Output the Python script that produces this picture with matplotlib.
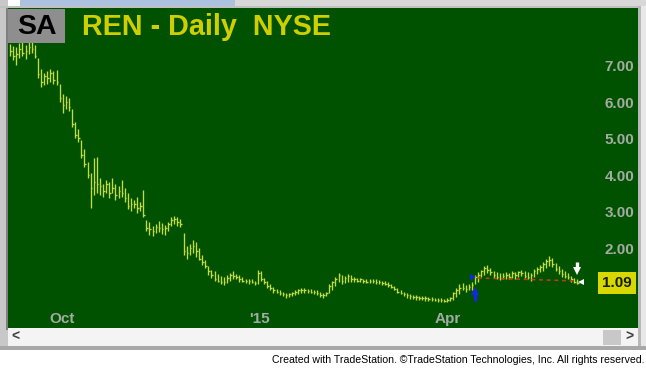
import matplotlib
matplotlib.use("Agg")
import matplotlib.pyplot as plt
from matplotlib.patches import Rectangle
from matplotlib.transforms import blended_transform_factory
import numpy as np

plt.rcParams['font.family'] = ['Liberation Sans', 'DejaVu Sans']

# daily bars REN (Sep 2014 - May 2015)
highs = [7.62, 7.58, 7.55, 7.65, 7.70, 7.60, 7.68, 7.72, 7.60,
         7.25, 6.95, 6.85, 6.90, 6.95, 6.88, 6.92,
         6.55, 6.25, 6.20, 6.15,
         5.85, 5.50, 5.30,
         5.00, 4.75, 4.40,
         4.10, 4.50, 4.55,
         3.95, 3.80, 3.90, 3.85, 3.95, 3.80, 3.75, 3.90, 3.70,
         3.55, 3.40, 3.35, 3.45, 3.30, 3.62,
         2.80, 2.75, 2.65, 2.70, 2.78, 2.72, 2.68, 2.75,
         2.90, 2.92, 2.88, 2.85,
         2.45,
         2.10, 2.15, 2.25, 2.20, 2.05,
         1.85, 1.72,
         1.55, 1.45, 1.40, 1.32, 1.28, 1.25, 1.30,
         1.35, 1.40, 1.33, 1.30, 1.25, 1.20,
         1.20, 1.18, 1.15,
         1.45, 1.40,
         1.22, 1.15, 1.05,
         0.98, 0.92, 0.88, 0.85, 0.82, 0.80, 0.85, 0.90,
         0.92, 0.95, 0.95, 0.93, 0.92, 0.90, 0.88,
         0.85, 0.82, 0.85,
         1.05, 1.15, 1.25,
         1.35, 1.30, 1.28, 1.32, 1.30,
         1.25, 1.22, 1.22, 1.20, 1.20, 1.18, 1.20, 1.18, 1.17, 1.15, 1.15, 1.10,
         1.05, 1.00, 0.95, 0.90, 0.85,
         0.80, 0.78, 0.75, 0.76, 0.74, 0.72, 0.73, 0.70, 0.70, 0.68, 0.67, 0.68, 0.65, 0.66, 0.70,
         0.85, 0.95, 1.05,
         1.08, 1.02, 1.05, 1.10,
         1.30, 1.38,
         1.45, 1.55, 1.58, 1.50,
         1.42, 1.38, 1.35, 1.36,
         1.38, 1.35, 1.40, 1.38, 1.42, 1.45, 1.40, 1.38, 1.36,
         1.48, 1.52, 1.58, 1.65,
         1.75, 1.82, 1.78,
         1.62, 1.55, 1.48, 1.40, 1.35,
         1.28, 1.22, 1.18]

lows = [7.30, 7.20, 7.05, 7.25, 7.30, 7.22, 7.35, 7.40, 7.25,
        6.70, 6.45, 6.50, 6.55, 6.58, 6.55, 6.50,
        6.05, 5.75, 5.85, 5.80,
        5.35, 5.05, 4.95,
        4.50, 4.25, 3.95,
        3.15, 3.50, 3.55,
        3.50, 3.45, 3.55, 3.40, 3.55, 3.35, 3.40, 3.45, 3.30,
        3.10, 3.05, 3.15, 3.00, 3.05, 2.88,
        2.50, 2.40, 2.38, 2.45, 2.48, 2.42, 2.40, 2.50,
        2.65, 2.70, 2.65, 2.62,
        1.85,
        1.75, 1.85, 1.90, 1.80, 1.70,
        1.58, 1.50,
        1.30, 1.22, 1.15, 1.10, 1.05, 1.03, 1.08,
        1.15, 1.20, 1.18, 1.12, 1.10, 1.08,
        1.05, 1.08, 1.03,
        1.05, 1.15,
        1.05, 0.95, 0.90,
        0.82, 0.80, 0.75, 0.72, 0.68, 0.70, 0.72, 0.75,
        0.78, 0.80, 0.82, 0.80, 0.80, 0.78, 0.75,
        0.70, 0.68, 0.72,
        0.80, 0.88, 1.00,
        1.10, 1.05, 1.08, 1.12, 1.10,
        1.12, 1.10, 1.10, 1.08, 1.08, 1.07, 1.08, 1.06, 1.05, 1.03, 1.02, 0.98,
        0.95, 0.88, 0.82, 0.78, 0.74,
        0.66, 0.65, 0.64, 0.63, 0.62, 0.62, 0.60, 0.60, 0.58, 0.58, 0.57, 0.56, 0.56, 0.57, 0.58,
        0.62, 0.70, 0.78,
        0.88, 0.85, 0.88, 0.90,
        1.05, 1.12,
        1.25, 1.30, 1.35, 1.30,
        1.22, 1.18, 1.16, 1.18,
        1.20, 1.18, 1.22, 1.20, 1.25, 1.28, 1.22, 1.18, 1.15,
        1.25, 1.32, 1.38, 1.42,
        1.50, 1.55, 1.52,
        1.40, 1.32, 1.25, 1.22, 1.18,
        1.12, 1.08, 1.05]

closes = [7.45, 7.30, 7.35, 7.50, 7.40, 7.45, 7.55, 7.50, 7.30,
          6.80, 6.60, 6.75, 6.70, 6.85, 6.65, 6.60,
          6.15, 5.95, 6.05, 5.90,
          5.45, 5.15, 5.05,
          4.60, 4.35, 4.05,
          3.70, 3.85, 3.80,
          3.75, 3.60, 3.80, 3.55, 3.70, 3.50, 3.60, 3.55, 3.40,
          3.20, 3.25, 3.25, 3.15, 3.20, 2.95,
          2.60, 2.55, 2.50, 2.62, 2.60, 2.55, 2.58, 2.70,
          2.80, 2.85, 2.75, 2.70,
          1.95,
          1.90, 2.05, 2.10, 1.95, 1.75,
          1.65, 1.55,
          1.40, 1.30, 1.20, 1.15, 1.10, 1.12, 1.22,
          1.30, 1.28, 1.25, 1.20, 1.15, 1.15,
          1.15, 1.12, 1.08,
          1.35, 1.20,
          1.10, 1.00, 0.95,
          0.90, 0.85, 0.80, 0.78, 0.75, 0.78, 0.82, 0.85,
          0.88, 0.90, 0.88, 0.87, 0.85, 0.83, 0.80,
          0.75, 0.75, 0.80,
          1.00, 1.10, 1.20,
          1.30, 1.15, 1.22, 1.28, 1.20,
          1.20, 1.15, 1.18, 1.15, 1.12, 1.13, 1.15, 1.12, 1.10, 1.08, 1.06, 1.02,
          0.98, 0.92, 0.85, 0.80, 0.78,
          0.75, 0.72, 0.70, 0.70, 0.68, 0.66, 0.68, 0.65, 0.64, 0.63, 0.62, 0.63, 0.60, 0.62, 0.66,
          0.80, 0.90, 0.95,
          0.95, 0.92, 0.98, 1.02,
          1.25, 1.30,
          1.40, 1.50, 1.45, 1.38,
          1.30, 1.25, 1.22, 1.28,
          1.30, 1.25, 1.35, 1.30, 1.38, 1.35, 1.28, 1.25, 1.30,
          1.42, 1.48, 1.52, 1.60,
          1.68, 1.72, 1.60,
          1.48, 1.40, 1.32, 1.28, 1.25,
          1.18, 1.12, 1.09]

price_ticks = [2, 3, 4, 5, 6, 7]
month_labels = ["Oct", "'15", "Apr"]
month_pos = [16.8, 80.6, 141.3]   # bar index of month start
buy_bar, buy_price = 150, 0.92
sell_bar, sell_price = 183, 1.36
stop_line = ([151, 183], [1.22, 1.14])
last_price = closes[-1]

W, H = 646, 368
GREEN = "#005200"
BARCOL = "#c4dc44"
GRAYTXT = "#a2aca2"

fig = plt.figure(figsize=(W / 100, H / 100), dpi=100)
fig.patch.set_facecolor("white")

def rect(x0, y0, x1, y1, **kw):
    # pixel box, y measured from the top
    fig.add_artist(Rectangle((x0 / W, 1 - y1 / H), (x1 - x0) / W, (y1 - y0) / H,
                             transform=fig.transFigure, **kw))

# window frame bits
rect(0, 0, 8, 350, color="#c8c8c8", lw=0)
rect(6, 8, 8, 330, color="#808080", lw=0)
rect(20, 0, 235, 6, color="#adc2e0", lw=0)
rect(235, 0, 646, 6, color="#d8d8d8", lw=0)
rect(0, 6, 646, 8, color="#c0c0c0", lw=0)
rect(638, 6, 641, 350, color="#b8b8b8", lw=0)
rect(641, 6, 646, 350, color="#e8e8e8", lw=0)
rect(8, 328, 638, 346, color="#f4f4f4", lw=0)
rect(603, 330, 621, 345, color="#c8c8c8", lw=0)
rect(0, 346, 646, 350, color="#a8a8a8", lw=0)
fig.text(15 / W, 1 - 337 / H, "<", fontsize=10, fontweight="bold", color="#404040",
         ha="center", va="center")
fig.text(629 / W, 1 - 337 / H, ">", fontsize=10, fontweight="bold", color="#404040",
         ha="center", va="center")

ax = fig.add_axes([8 / W, 1 - 328 / H, 630 / W, 320 / H])
ax.set_facecolor(GREEN)
for s in ax.spines.values():
    s.set_visible(False)
ax.set_xticks([])
ax.set_yticks([])
ax.set_xlim(-0.65, 202.6)
ax.set_ylim(-0.15, 8.62)

x = np.arange(len(highs))
ax.vlines(x, lows, highs, color=BARCOL, lw=0.95)
ax.hlines(closes, x, x + 0.5, color=BARCOL, lw=0.95)

# stop line and signal arrows
ax.plot(stop_line[0], stop_line[1], color="#c83c14", lw=1.1, dashes=(2.5, 2.5))
ax.plot([buy_bar, buy_bar], [buy_price - 0.34, buy_price - 0.08], color="#1428e0",
        lw=2.4, solid_capstyle="butt")
ax.plot([buy_bar], [buy_price - 0.06], marker="^", color="#1428e0", ms=6, mew=0)
ax.plot([buy_bar - 0.7], [1.25], marker=">", color="#1428e0", ms=5, mew=0)
ax.plot([sell_bar, sell_bar], [sell_price + 0.30, sell_price + 0.08], color="white",
        lw=2.4, solid_capstyle="butt")
ax.plot([sell_bar], [sell_price + 0.06], marker="v", color="white", ms=6, mew=0)
ax.plot([sell_bar + 1.2], [last_price + 0.02], marker="<", color="white", ms=5, mew=0)

yt = blended_transform_factory(ax.transAxes, ax.transData)
for p in price_ticks:
    ax.text(0.9937, p, f"{p:.2f}", transform=yt, ha="right", va="center",
            fontsize=11, fontweight="bold", color=GRAYTXT)

ax.text(0.9667, last_price, f"{last_price:.2f}", transform=yt, ha="center", va="center",
        fontsize=11, fontweight="bold", color="#102000",
        bbox=dict(boxstyle="square,pad=0.25", fc="#d8d800", ec="none"))

xt = blended_transform_factory(ax.transData, ax.transAxes)
for lab, pos in zip(month_labels, month_pos):
    ax.text(pos, 0.028, lab, transform=xt, ha="center", va="center",
            fontsize=11, fontweight="bold", color=GRAYTXT)

# title
rect(8, 9, 65, 43, color="#8e8e8e", lw=0, zorder=5)
fig.text(36.5 / W, 1 - 27 / H, "SA", fontsize=20.5, fontweight="bold", color="black",
         ha="center", va="center", zorder=6)
fig.text(82 / W, 1 - 27 / H, "REN - Daily  NYSE", fontsize=20.7, fontweight="bold",
         color="#cfcf00", ha="left", va="center", zorder=6)

fig.text(644 / W, 1 - 360 / H,
         "Created with TradeStation. \u00a9TradeStation Technologies, Inc. All rights reserved.",
         fontsize=7.6, color="black", ha="right", va="center")

fig.savefig("out.png", dpi=100)
